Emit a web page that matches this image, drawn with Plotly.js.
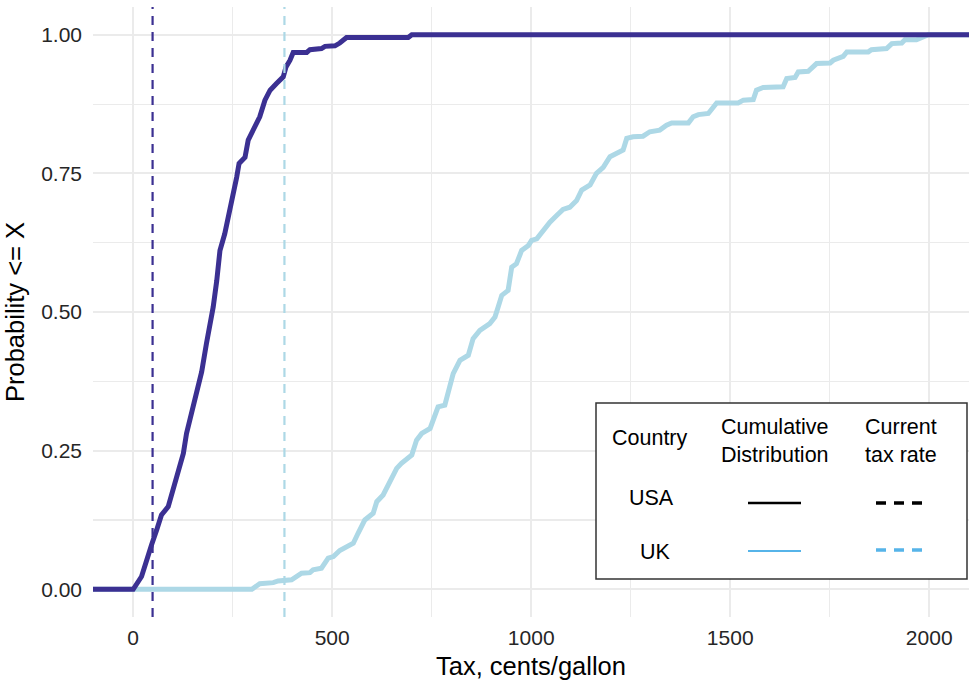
<!DOCTYPE html>
<html>
<head>
<meta charset="utf-8">
<script src="https://cdn.plot.ly/plotly-3.0.1.min.js"></script>
<style>
  html, body { margin: 0; padding: 0; background: #ffffff; }
  #chart { width: 969px; height: 680px; }
</style>
</head>
<body>
<div id="chart"></div>
<script>
// ---- Data ----
// USA cumulative distribution of tax (cents/gallon)
const usaTax  = [-101, 0, 21, 34, 46, 59, 71, 88, 100, 113, 126, 134, 147, 159, 172, 184, 201, 210,
                 218, 230, 239, 251, 260, 266, 281, 289, 302, 318, 331, 344, 360, 377, 384, 394, 402,
                 436, 444, 473, 482, 507, 519, 532, 536, 691, 700, 2100];
const usaProb = [0, 0, 0.023, 0.056, 0.080, 0.107, 0.134, 0.149, 0.179, 0.209, 0.245, 0.281, 0.317, 0.353, 0.392, 0.443, 0.509, 0.557,
                 0.611, 0.641, 0.671, 0.707, 0.743, 0.768, 0.779, 0.810, 0.828, 0.852, 0.882, 0.900, 0.912, 0.924, 0.942, 0.954, 0.968,
                 0.968, 0.973, 0.975, 0.979, 0.980, 0.985, 0.992, 0.995, 0.995, 1.0, 1.0];

// UK cumulative distribution of tax (cents/gallon)
const ukTax  = [-101, 298, 318, 352, 364, 398, 423, 444, 452, 473, 490, 503, 519, 536, 553, 565, 582, 603,
                612, 628, 641, 662, 674, 700, 712, 725, 746, 766, 783, 796, 804, 821, 842, 854, 871,
                896, 909, 917, 926, 942, 951, 963, 976, 993, 1001, 1014, 1030, 1047, 1064, 1080, 1097,
                1114, 1127, 1148, 1164, 1181, 1198, 1215, 1231, 1240, 1256, 1281, 1298, 1323, 1340, 1353,
                1395, 1407, 1420, 1445, 1457, 1466, 1520, 1533, 1558, 1566, 1583, 1633, 1642, 1663, 1671,
                1696, 1717, 1751, 1759, 1784, 1793, 1847, 1855, 1893, 1906, 1931, 1939, 1968, 1998, 2100];
const ukProb = [0, 0, 0.010, 0.012, 0.015, 0.017, 0.029, 0.030, 0.035, 0.038, 0.056, 0.059, 0.070, 0.077, 0.083, 0.101, 0.125, 0.137,
                0.158, 0.170, 0.188, 0.218, 0.227, 0.242, 0.269, 0.281, 0.290, 0.329, 0.332, 0.365, 0.389, 0.413, 0.422, 0.452, 0.467,
                0.479, 0.491, 0.509, 0.530, 0.539, 0.581, 0.587, 0.611, 0.620, 0.629, 0.632, 0.647, 0.662, 0.674, 0.685, 0.689,
                0.701, 0.720, 0.729, 0.750, 0.761, 0.780, 0.786, 0.792, 0.813, 0.816, 0.817, 0.825, 0.828, 0.837, 0.841,
                0.841, 0.852, 0.856, 0.858, 0.870, 0.877, 0.877, 0.882, 0.883, 0.900, 0.905, 0.906, 0.921, 0.923, 0.933,
                0.934, 0.948, 0.949, 0.954, 0.961, 0.969, 0.969, 0.973, 0.975, 0.984, 0.985, 0.991, 0.991, 1.0, 1.0];

// Current tax rates (cents/gallon)
const usaRate = 48.7;
const ukRate  = 380;

// Axis ticks
const xTickVals = [0, 500, 1000, 1500, 2000];
const yTickVals = [0, 0.25, 0.5, 0.75, 1.0];

// Legend table text
const legendHeaders = ["Country", "Cumulative<br>Distribution", "Current<br>tax rate"];
const legendCountries = ["USA", "UK"];

// ---- Styling ----
const usaColor = "#3b3092";
const ukColor  = "#add8e6";
const legendUkColor = "#56b4e9";
const FONT = "Liberation Sans, Arial, Helvetica, sans-serif";

// plot area in pixels (for legend placement)
const W = 969, H = 680;
const M = {l: 93, r: 0, t: 7, b: 63};
const plotW = W - M.l - M.r, plotH = H - M.t - M.b;
const px = x => (x - M.l) / plotW;
const py = y => (H - M.b - y) / plotH;

const traces = [
  {x: ukTax, y: ukProb, type: "scatter", mode: "lines", name: "UK",
   line: {color: ukColor, width: 5}, hoverinfo: "skip", showlegend: false},
  {x: usaTax, y: usaProb, type: "scatter", mode: "lines", name: "USA",
   line: {color: usaColor, width: 5}, hoverinfo: "skip", showlegend: false}
];

const shapes = [
  {type: "line", xref: "x", yref: "paper", x0: usaRate, x1: usaRate, y0: 0, y1: 1,
   line: {color: usaColor, width: 2.2, dash: "9px,7px"}, layer: "above"},
  {type: "line", xref: "x", yref: "paper", x0: ukRate, x1: ukRate, y0: 0, y1: 1,
   line: {color: ukColor, width: 2.2, dash: "9px,7px"}, layer: "above"},
  // legend box
  {type: "rect", xref: "paper", yref: "paper", x0: px(596), x1: px(967), y0: py(579), y1: py(403),
   fillcolor: "#ffffff", line: {color: "#333333", width: 1.5}, layer: "above"},
  // legend keys
  {type: "line", xref: "paper", yref: "paper", x0: px(748), x1: px(801), y0: py(503), y1: py(503),
   line: {color: "#000000", width: 2.5}, layer: "above"},
  {type: "line", xref: "paper", yref: "paper", x0: px(876), x1: px(922), y0: py(503), y1: py(503),
   line: {color: "#000000", width: 3.5, dash: "10px,8px"}, layer: "above"},
  {type: "line", xref: "paper", yref: "paper", x0: px(748), x1: px(801), y0: py(551), y1: py(551),
   line: {color: legendUkColor, width: 2}, layer: "above"},
  {type: "line", xref: "paper", yref: "paper", x0: px(876), x1: px(922), y0: py(550), y1: py(550),
   line: {color: legendUkColor, width: 3.5, dash: "10px,8px"}, layer: "above"}
];

const annFont = {family: FONT, size: 21.5, color: "#000000"};
const annotations = [
  {xref: "paper", yref: "paper", x: px(650), y: py(438), text: legendHeaders[0], showarrow: false,
   xanchor: "center", yanchor: "middle", font: annFont},
  {xref: "paper", yref: "paper", x: px(775), y: py(441), text: legendHeaders[1], showarrow: false,
   xanchor: "center", yanchor: "middle", font: annFont},
  {xref: "paper", yref: "paper", x: px(901), y: py(441), text: legendHeaders[2], showarrow: false,
   xanchor: "center", yanchor: "middle", font: annFont},
  {xref: "paper", yref: "paper", x: px(651), y: py(498), text: legendCountries[0], showarrow: false,
   xanchor: "center", yanchor: "middle", font: annFont},
  {xref: "paper", yref: "paper", x: px(655), y: py(552), text: legendCountries[1], showarrow: false,
   xanchor: "center", yanchor: "middle", font: annFont}
];

const layout = {
  width: W, height: H,
  margin: M,
  paper_bgcolor: "#ffffff",
  plot_bgcolor: "#ffffff",
  font: {family: FONT, color: "#000000"},
  showlegend: false,
  xaxis: {
    range: [-101, 2100],
    tickvals: xTickVals,
    ticktext: xTickVals.map(String),
    showgrid: true, gridcolor: "#ebebeb", gridwidth: 1.8,
    minor: {dtick: 250, tick0: 0, showgrid: true, gridcolor: "#ebebeb", gridwidth: 1.1, ticks: ""},
    zeroline: false, showline: false, ticks: "",
    ticklabelstandoff: 6,
    tickfont: {family: FONT, size: 21, color: "#262626"},
    title: {text: "Tax, cents/gallon", font: {family: FONT, size: 25.5, color: "#000000"}, standoff: 9}
  },
  yaxis: {
    range: [-0.05, 1.05],
    tickvals: yTickVals,
    ticktext: yTickVals.map(v => v.toFixed(2)),
    showgrid: true, gridcolor: "#ebebeb", gridwidth: 1.8,
    minor: {dtick: 0.125, tick0: 0, showgrid: true, gridcolor: "#ebebeb", gridwidth: 1.1, ticks: ""},
    zeroline: false, showline: false, ticks: "",
    ticklabelstandoff: 10,
    tickfont: {family: FONT, size: 21, color: "#262626"},
    title: {text: "Probability <= X", font: {family: FONT, size: 25.5, color: "#000000"}, standoff: 9}
  },
  shapes: shapes,
  annotations: annotations
};

Plotly.newPlot("chart", traces, layout, {staticPlot: true, displayModeBar: false});
</script>
</body>
</html>
